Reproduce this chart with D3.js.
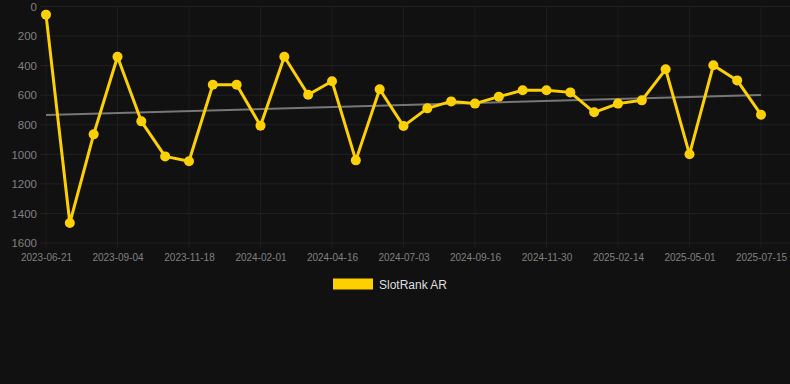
<!DOCTYPE html>
<html><head><meta charset="utf-8">
<script src="https://cdn.jsdelivr.net/npm/d3@7/dist/d3.min.js"></script>
<style>
html,body{margin:0;padding:0;background:#111111;}
svg{display:block;}
</style></head>
<body>
<svg id="chart" width="790" height="384"></svg>
<script>
const categories = ["2023-06-21","2023-07-16","2023-08-10","2023-09-04","2023-09-29","2023-10-24","2023-11-18","2023-12-13","2024-01-07","2024-02-01","2024-02-26","2024-03-22","2024-04-16","2024-05-12","2024-06-07","2024-07-03","2024-07-28","2024-08-22","2024-09-16","2024-10-11","2024-11-05","2024-11-30","2024-12-26","2025-01-20","2025-02-14","2025-03-11","2025-04-05","2025-05-01","2025-05-26","2025-06-20","2025-07-15"];
const slotRankAR = [55,1465,865,340,777,1014,1047,529,529,806,340,597,506,1041,560,809,689,642,657,610,567,567,581,716,657,635,425,1000,398,500,732];
const yTicks = [0,200,400,600,800,1000,1200,1400,1600];
const seriesName = "SlotRank AR";

const svg = d3.select("#chart");
const plotL = 46, plotR = 761, plotT = 6.5, plotB = 243;
const x = d3.scalePoint().domain(categories).range([plotL, plotR]);
const y = d3.scaleLinear().domain([0,1600]).range([plotT, plotB]);

// horizontal grid
svg.append("g").selectAll("line").data(yTicks).join("line")
  .attr("x1", 40).attr("x2", 790)
  .attr("y1", d => y(d)).attr("y2", d => y(d))
  .attr("stroke", "#202020").attr("stroke-width", 1);
// vertical grid at labelled ticks
const labelled = categories.filter((d,i) => i % 3 === 0);
svg.append("g").selectAll("line").data(labelled).join("line")
  .attr("x1", d => x(d)).attr("x2", d => x(d))
  .attr("y1", plotT).attr("y2", plotB + 5)
  .attr("stroke", "#1d1d1d").attr("stroke-width", 1);

// y axis labels
const yAxis = d3.axisLeft(y).tickValues(yTicks).tickFormat(d3.format("d")).tickSize(0).tickPadding(0);
const gy = svg.append("g").attr("transform", "translate(37,0)").call(yAxis);
gy.select(".domain").remove();
gy.selectAll("text").attr("fill", "#808080").style("font-family", "Liberation Sans, Arial, sans-serif").style("font-size", "11.5px");

// x axis labels
const xAxis = d3.axisBottom(x).tickValues(labelled).tickSize(0).tickPadding(0);
const gx = svg.append("g").attr("transform", `translate(0,${plotB + 11})`).call(xAxis);
gx.select(".domain").remove();
gx.selectAll("text").attr("fill", "#808080").style("font-family", "Liberation Sans, Arial, sans-serif").style("font-size", "10px");

// trend line (least squares)
const n = slotRankAR.length;
const idx = d3.range(n);
const mx = d3.mean(idx), my = d3.mean(slotRankAR);
const slope = d3.sum(idx, i => (i - mx) * (slotRankAR[i] - my)) / d3.sum(idx, i => (i - mx) ** 2);
const icpt = my - slope * mx;
svg.append("line")
  .attr("x1", x(categories[0])).attr("y1", y(icpt))
  .attr("x2", x(categories[n-1])).attr("y2", y(icpt + slope * (n - 1)))
  .attr("stroke", "#777").attr("stroke-width", 2);

// series line
const line = d3.line().x((d,i) => x(categories[i])).y(d => y(d));
svg.append("path").datum(slotRankAR)
  .attr("d", line).attr("fill", "none")
  .attr("stroke", "#FFD000").attr("stroke-width", 3).attr("stroke-linejoin", "round");
svg.append("g").selectAll("circle").data(slotRankAR).join("circle")
  .attr("cx", (d,i) => x(categories[i])).attr("cy", d => y(d))
  .attr("r", 5).attr("fill", "#FFD000");

// legend
const lg = svg.append("g");
lg.append("rect").attr("x", 333).attr("y", 278.5).attr("width", 40).attr("height", 11).attr("fill", "#FFD000");
lg.append("text").attr("x", 379).attr("y", 288.5).text(seriesName)
  .attr("fill", "#ddd").style("font-family", "Liberation Sans, Arial, sans-serif").style("font-size", "12px");
</script>
</body></html>
